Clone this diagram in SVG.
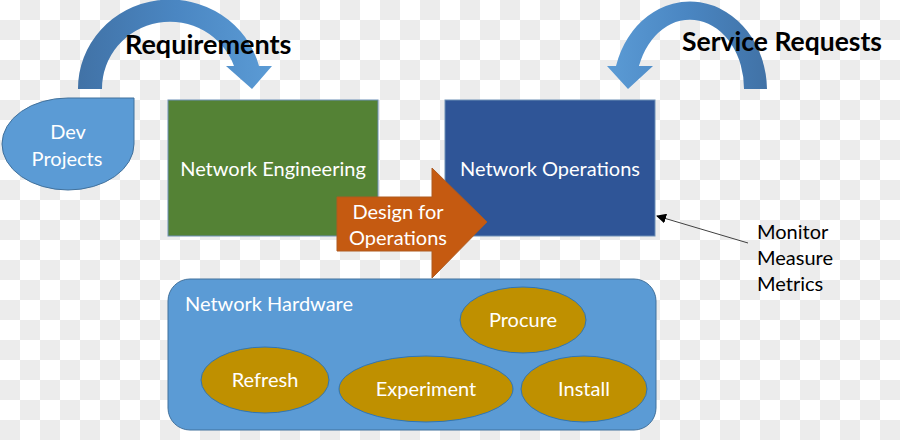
<svg xmlns="http://www.w3.org/2000/svg" width="900" height="440" viewBox="0 0 900 440">
<defs>
<pattern id="checker" x="0" y="0" width="40" height="40" patternUnits="userSpaceOnUse">
<rect width="40" height="40" fill="#ffffff"/>
<rect x="20" y="0" width="20" height="20" fill="#ececec"/>
<rect x="0" y="20" width="20" height="20" fill="#ececec"/>
</pattern>
<linearGradient id="gL" x1="0" y1="0" x2="1" y2="0">
<stop offset="0" stop-color="#4172a6"/>
<stop offset="0.5" stop-color="#4a86c2"/>
<stop offset="1" stop-color="#5b9bd5"/>
</linearGradient>
<linearGradient id="gR" x1="1" y1="0" x2="0" y2="0">
<stop offset="0" stop-color="#4172a6"/>
<stop offset="0.5" stop-color="#4a86c2"/>
<stop offset="1" stop-color="#5b9bd5"/>
</linearGradient>
<marker id="ah" viewBox="0 0 10 10" refX="9" refY="5" markerWidth="10" markerHeight="10" markerUnits="userSpaceOnUse" orient="auto">
<path d="M0,0 L10,5 L0,10 Z" fill="#000"/>
</marker>
<style>
.t{font-family:Lato,"Open Sans","Liberation Sans",sans-serif;fill:#fff;font-size:20px}
.c{text-anchor:middle}
.k{fill:#000}
.b{font-weight:bold;fill:#000}
.ell{fill:#bf9000;stroke:#2e75b6;stroke-width:1}
</style>
</defs>
<rect width="900" height="440" fill="url(#checker)"/>

<g id="connectors">
<path id="req-arrow" d="M78,89 A92,89 0 0 1 259,66 L272,66 L252,89 L226,66 L234,66 A68,67 0 0 0 102,89 Z" fill="url(#gL)"/>
<path id="svc-arrow" d="M767,89 A77,89 0 0 0 616,66 L607,66 L628,89 L653,66 L639,66 A54,69 0 0 1 744,89 Z" fill="url(#gR)"/>
<line x1="748" y1="243" x2="657" y2="216" stroke="#404040" stroke-width="1" marker-end="url(#ah)"/>
</g>

<g id="requirements-label"><text class="t b" x="125" y="54" style="font-size:27px">Requirements</text></g>
<g id="service-label"><text class="t b" x="682" y="51" style="font-size:26.5px">Service Requests</text></g>

<g id="dev-projects">
<path d="M68,98 A66,46 0 1 0 134,144 L134,98 Z" fill="#5b9bd5" stroke="#41719c" stroke-width="1"/>
<text class="t c" x="68" y="139">Dev</text>
<text class="t c" x="67" y="166">Projects</text>
</g>

<g id="network-engineering">
<rect x="168" y="100" width="210" height="136" fill="#548235" stroke="#6d8fb5" stroke-width="1"/>
<text class="t c" x="273" y="176">Network Engineering</text>
</g>

<g id="network-operations">
<rect x="445" y="100" width="210" height="136" fill="#2f5597" stroke="#6d8fb5" stroke-width="1"/>
<text class="t c" x="550" y="176">Network Operations</text>
</g>

<g id="design-for-operations">
<path d="M337,197 L432,197 L432,168 L487,222 L432,278 L432,251 L337,251 Z" fill="#c55a11" stroke="#ae5a21" stroke-width="1"/>
<text class="t c" x="398" y="219">Design for</text>
<text class="t c" x="398" y="245">Operations</text>
</g>

<g id="network-hardware">
<rect x="168" y="279" width="488" height="151" rx="22" ry="22" fill="#5b9bd5" stroke="#41719c" stroke-width="1"/>
<text class="t" x="185" y="311">Network Hardware</text>
</g>

<g id="procure">
<ellipse class="ell" cx="523" cy="320" rx="63" ry="33"/>
<text class="t c" x="523" y="327">Procure</text>
</g>
<g id="refresh">
<ellipse class="ell" cx="265" cy="380" rx="64" ry="33"/>
<text class="t c" x="265" y="387">Refresh</text>
</g>
<g id="experiment">
<ellipse class="ell" cx="426" cy="389" rx="87" ry="33"/>
<text class="t c" x="426" y="396">Experiment</text>
</g>
<g id="install">
<ellipse class="ell" cx="584" cy="389" rx="63" ry="33"/>
<text class="t c" x="584" y="396">Install</text>
</g>

<g id="monitor-label">
<text class="t k" x="757" y="239">Monitor</text>
<text class="t k" x="757" y="265">Measure</text>
<text class="t k" x="757" y="291">Metrics</text>
</g>
</svg>
